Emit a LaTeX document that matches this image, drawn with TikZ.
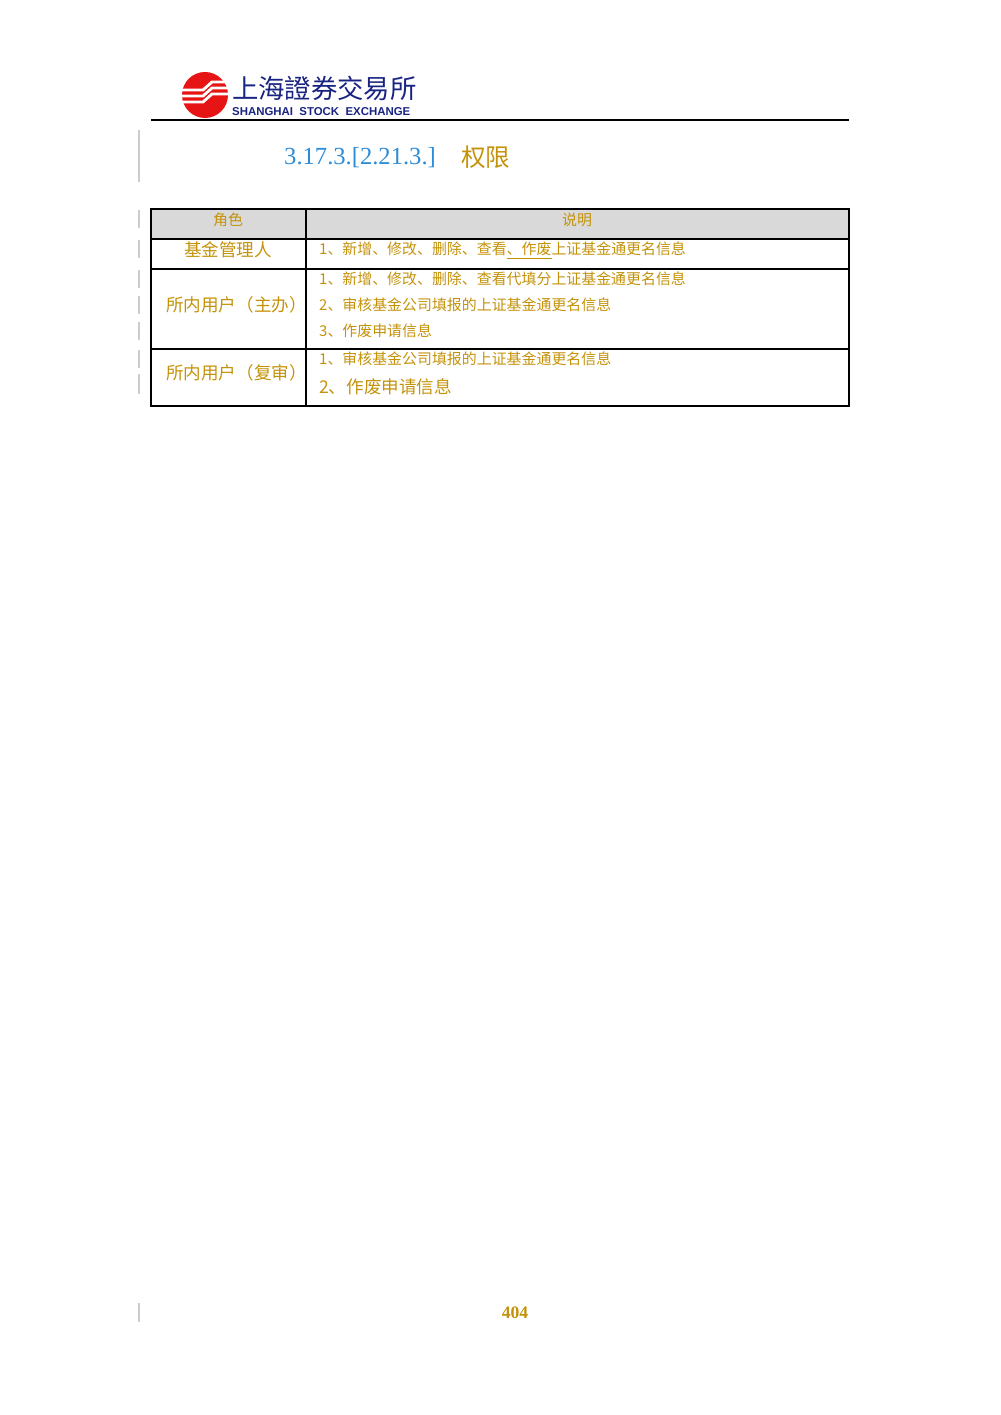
\documentclass[tikz,border=0pt]{standalone}
\usepackage{fontspec}
\setmainfont{Liberation Serif}
\newfontfamily\cjk{Noto Sans CJK SC}
\newfontfamily\hsans{Liberation Sans}
\definecolor{gold}{RGB}{196,146,10}
\definecolor{hblue}{RGB}{45,140,215}
\definecolor{navy}{RGB}{25,35,130}
\definecolor{sred}{RGB}{230,20,20}
\definecolor{hdr}{RGB}{217,217,217}
\tikzset{cell/.style={font=\cjk\fontsize{8.5pt}{10pt}\selectfont,text=gold},
 bar/.style={draw=gray!40,line width=0.6pt}}
\begin{document}
\begin{tikzpicture}[x=0.02cm,y=-0.02cm]
\useasboundingbox (0,0) rectangle (1000,1415);
% logo
\fill[sred] (205,95) circle (23);
\foreach \d in {0,6,12}{
 \draw[white,line width=1.6pt] (182,96+\d-6) -- (203,96+\d-6) -- (212,88+\d-6) -- (230,88+\d-6);}
\node[anchor=west,text=navy,font=\cjk\fontsize{15pt}{16pt}\selectfont] (lc) at (226,88) {上海證券交易所};
\node[anchor=west,text=navy,font=\hsans\bfseries\fontsize{6.5pt}{7pt}\selectfont] (le) at (226,112) {SHANGHAI\ \ STOCK\ \ EXCHANGE};
\draw[line width=0.8pt] (151,120) -- (849,120);
\draw[bar] (139,130) -- (139,182);
\node[anchor=west,text=hblue,font=\fontsize{14pt}{16pt}\selectfont] (h) at (278,158) {3.17.3.[2.21.3.]};
\node[anchor=west,text=gold,font=\cjk\fontsize{14pt}{16pt}\selectfont] (h2) at (455,157) {权限};
% margin bars
\foreach \a/\b in {210/228,240/258,270/288,296/314,322/340,350/368,374/394}{\draw[bar] (139,\a) -- (139,\b);}
% table
\fill[hdr] (151,209) rectangle (849,239);
\draw[line width=0.6pt] (151,209) rectangle (849,406);
\foreach \y in {239,269,349}{\draw[line width=0.6pt] (151,\y) -- (849,\y);}
\draw[line width=0.6pt] (306,209) -- (306,406);
\node[cell] (r0) at (228,220) {角色};
\node[cell] (d0) at (577,220) {说明};
\node[cell,font=\cjk\fontsize{10pt}{12pt}\selectfont] (r1) at (228,250) {基金管理人};
\node[cell,anchor=west] (d1) at (313,251) {1、新增、修改、删除、查看\underline{、作废}上证基金通更名信息};
\node[cell,anchor=west,font=\cjk\fontsize{10pt}{12pt}\selectfont] (r2) at (160,305) {所内用户（主办）};
\node[cell,anchor=west] (d2a) at (313,279) {1、新增、修改、删除、查看代填分上证基金通更名信息};
\node[cell,anchor=west] (d2b) at (313,305) {2、审核基金公司填报的上证基金通更名信息};
\node[cell,anchor=west] (d2c) at (313,331) {3、作废申请信息};
\node[cell,anchor=west,font=\cjk\fontsize{10pt}{12pt}\selectfont] (r3) at (160,373) {所内用户（复审）};
\node[cell,anchor=west] (d3a) at (313,359) {1、审核基金公司填报的上证基金通更名信息};
\node[cell,anchor=west,font=\cjk\fontsize{10pt}{12pt}\selectfont] (d3b) at (313,387) {2、作废申请信息};
% footer
\draw[bar] (139,1303) -- (139,1322);
\node[text=gold,font=\bfseries\fontsize{10pt}{12pt}\selectfont] (pg) at (515,1313) {404};
\end{tikzpicture}
\end{document}
